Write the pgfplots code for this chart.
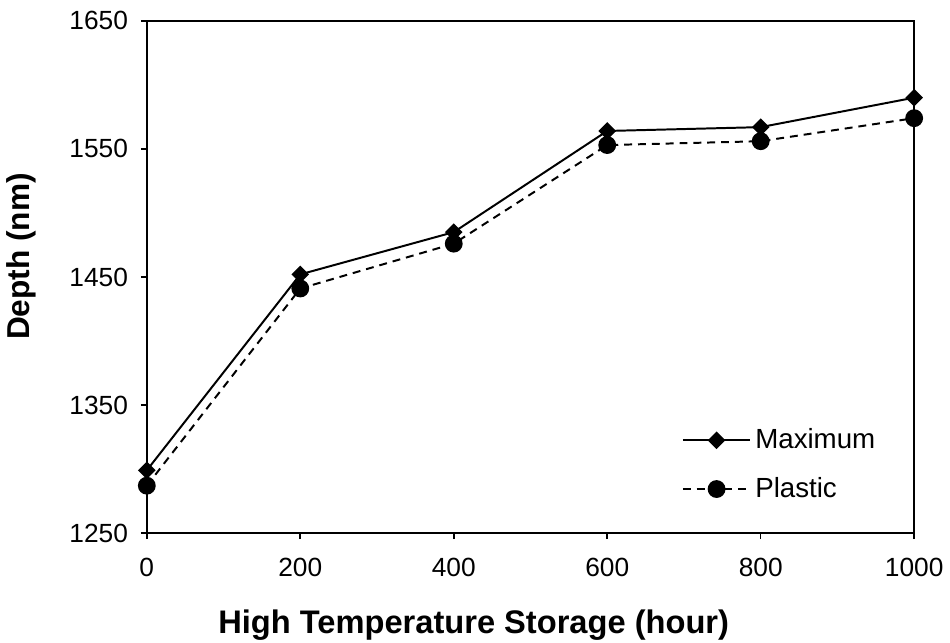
\documentclass[border=0pt]{standalone}
\usepackage{fontspec}
\setmainfont{Liberation Sans}
\usepackage{pgfplots}
\pgfplotsset{compat=1.18}

\begin{document}
\begin{tikzpicture}
\begin{axis}[
  scale only axis,
  width=388pt, height=259pt,
  xmin=0, xmax=1000, ymin=1250, ymax=1650,
  xtick={0,200,...,1000}, ytick={1250,1350,...,1650},
  tick align=outside, tick pos=left,
  major tick length=3pt,
  tick style={black, line width=0.8pt},
  axis line style={line width=0.8pt},
  font=\fontsize{13.3}{15}\selectfont,
  /pgf/number format/assume math mode=true,
  /pgf/number format/set thousands separator={},
  xticklabel style={yshift=-6pt},
  yticklabel style={xshift=-3pt},
  xlabel={\bfseries\fontsize{16.5}{18}\selectfont High Temperature Storage (hour)},
  ylabel={\bfseries\fontsize{16}{18}\selectfont Depth (nm)},
  xlabel style={at={(ticklabel cs:0.426)}, inner ysep=1pt, yshift=-12.5pt},
  ylabel style={at={(ticklabel cs:0.54)}, yshift=10pt},
  legend style={draw=none, fill=none, at={(0.955,0.055)}, anchor=south east,
    row sep=9pt, font=\fontsize{14}{16}\selectfont, inner sep=0pt},
  legend cell align=left,
  legend image code/.code={
    \draw[#1] (0cm,0cm) -- (1.2cm,0cm);
    \draw[#1, solid] plot coordinates {(0.6cm,0cm)};
  },
]
% diamonds drawn as squares turned 45 degrees, as in the original
\addplot[black, line width=1pt, mark=square*, mark size=2.65pt,
  mark options={solid, rotate=45}]
coordinates {(0,1299) (200,1452) (400,1485) (600,1564) (800,1567) (1000,1590)};
\addlegendentry{Maximum}
\addplot[black, line width=1pt, dash pattern=on 4pt off 3pt, mark=*, mark size=4pt,
  mark options={solid}]
coordinates {(0,1287) (200,1441) (400,1476) (600,1553) (800,1556) (1000,1574)};
\addlegendentry{Plastic}
\end{axis}
\path (current bounding box.north) ++(0,2.5pt);
\end{tikzpicture}
\end{document}
